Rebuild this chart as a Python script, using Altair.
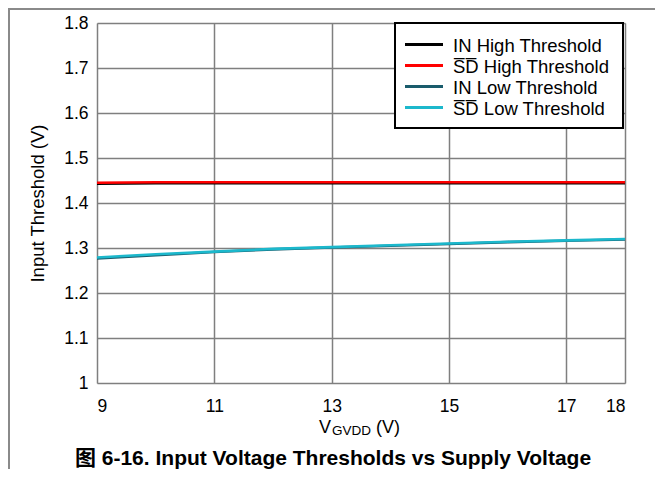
import altair as alt
import pandas as pd

# ---- data ----
vgvdd = [9, 10, 11, 12, 13, 14, 15, 16, 17, 18]
in_high = [1.443, 1.444, 1.444, 1.444, 1.444, 1.444, 1.444, 1.444, 1.444, 1.444]
sd_high = [1.445, 1.446, 1.446, 1.446, 1.446, 1.446, 1.446, 1.446, 1.446, 1.446]
in_low = [1.277, 1.284, 1.291, 1.297, 1.301, 1.305, 1.309, 1.313, 1.316, 1.319]
sd_low = [1.279, 1.286, 1.292, 1.298, 1.302, 1.306, 1.310, 1.314, 1.317, 1.320]

series_names = [
    "IN High Threshold",
    "S\u0305D\u0305 High Threshold",
    "IN Low Threshold",
    "S\u0305D\u0305 Low Threshold",
]
series_values = [in_high, sd_high, in_low, sd_low]
series_colors = ["#000000", "#ff0000", "#1a5c6c", "#1cb8cc"]

x_ticks = [9, 11, 13, 15, 17, 18]
y_ticks = [1.0, 1.1, 1.2, 1.3, 1.4, 1.5, 1.6, 1.7, 1.8]

fig_title = "图 6-16. Input Voltage Thresholds vs Supply Voltage"
y_title = "Input Threshold (V)"

rows = []
for si, (name, vals) in enumerate(zip(series_names, series_values)):
    for x, v in zip(vgvdd, vals):
        rows.append({"VGVDD": x, "Threshold": v, "Series": name, "order": si})
df = pd.DataFrame(rows)

FONT = "Liberation Sans, Arial, Noto Sans CJK SC, sans-serif"
W, H = 528, 360

lines = alt.Chart(df).mark_line(strokeWidth=2.6).encode(
    x=alt.X("VGVDD:Q",
            scale=alt.Scale(domain=[9, 18], nice=False, zero=False),
            axis=alt.Axis(values=x_ticks, title=None, labelFontSize=17.5,
                          labelPadding=14, tickSize=0, domain=False,
                          gridColor="#7f7f7f", gridWidth=1.5, gridOpacity=1,
                          labelFont=FONT, labelColor="#000000")),
    y=alt.Y("Threshold:Q",
            scale=alt.Scale(domain=[1.0, 1.8], nice=False, zero=False),
            axis=alt.Axis(values=y_ticks, format=".1~f", title=y_title,
                          labelFontSize=17.5, labelPadding=9, tickSize=0,
                          domain=False, titleFontSize=18.5, titleFontWeight="normal",
                          titlePadding=16, titleFont=FONT, labelFont=FONT,
                          gridColor="#7f7f7f", gridWidth=1.5, gridOpacity=1,
                          labelColor="#000000", titleColor="#000000")),
    color=alt.Color("Series:N",
                    scale=alt.Scale(domain=series_names, range=series_colors),
                    sort=series_names, legend=None),
    order=alt.Order("order:Q"),
)

one = alt.Data(values=[{}])

# ---- legend (drawn as a box with line samples and labels) ----
LX0, LX1, LY0, LY1 = 298, 526, 0, 105
legend_layers = [
    alt.Chart(one).mark_rect(fill="#ffffff", stroke="#000000", strokeWidth=2).encode(
        x=alt.value(LX0), x2=alt.value(LX1), y=alt.value(LY0), y2=alt.value(LY1))
]
for i, (name, col) in enumerate(zip(series_names, series_colors)):
    ry = 21.5 + 21 * i
    legend_layers.append(
        alt.Chart(one).mark_rule(color=col, strokeWidth=3).encode(
            x=alt.value(LX0 + 10), x2=alt.value(LX0 + 48), y=alt.value(ry)))
    legend_layers.append(
        alt.Chart(one).mark_text(font=FONT, fontSize=18.5, align="left",
                                 baseline="middle", color="#000").encode(
            x=alt.value(LX0 + 58), y=alt.value(ry + 1), text=alt.value(name)))

# x-axis title with subscript
xt_v = alt.Chart(one).mark_text(font=FONT, fontSize=18, align="left",
                                baseline="alphabetic", color="#000").encode(
    x=alt.value(222), y=alt.value(410), text=alt.value("V"))
xt_sub = alt.Chart(one).mark_text(font=FONT, fontSize=13.5, align="left",
                                  baseline="alphabetic", color="#000").encode(
    x=alt.value(235), y=alt.value(412), text=alt.value("GVDD"))
xt_unit = alt.Chart(one).mark_text(font=FONT, fontSize=18, align="left",
                                   baseline="alphabetic", color="#000").encode(
    x=alt.value(279), y=alt.value(410), text=alt.value("(V)"))

title_txt = alt.Chart(one).mark_text(font=FONT, fontSize=21, fontWeight="bold",
                                     align="center", baseline="alphabetic",
                                     color="#000").encode(
    x=alt.value(236), y=alt.value(442), text=alt.value(fig_title))

frame_top = alt.Chart(one).mark_rule(color="#8a8a8a", strokeWidth=2).encode(
    x=alt.value(-89), x2=alt.value(600), y=alt.value(-14))
frame_left = alt.Chart(one).mark_rule(color="#8a8a8a", strokeWidth=2).encode(
    x=alt.value(-88), y=alt.value(-15), y2=alt.value(460))

chart = alt.layer(lines, *legend_layers, xt_v, xt_sub, xt_unit, title_txt,
                  frame_top, frame_left).properties(
    width=W, height=H,
    autosize=alt.AutoSizeParams(type="none"),
    padding={"left": 89, "top": 15, "right": 30, "bottom": 86},
).configure_view(stroke="#000000", strokeWidth=3).configure(background="#ffffff")

chart.save("out.html", embed_options={"renderer": "svg", "actions": False})
